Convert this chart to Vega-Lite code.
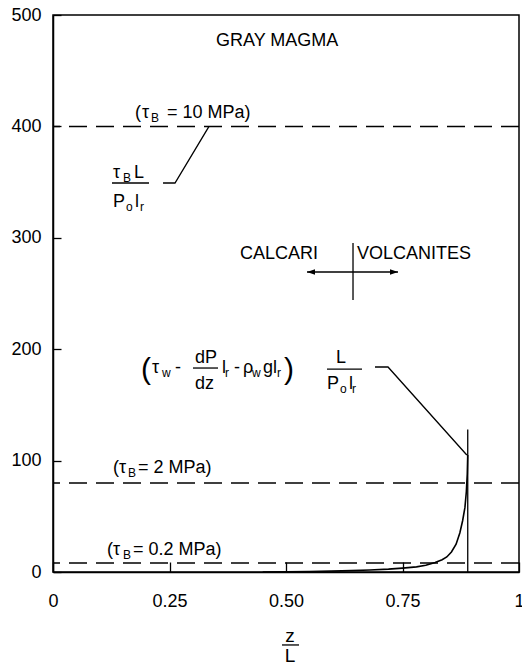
{
  "$schema": "https://vega.github.io/schema/vega-lite/v6.json",
  "width": 466,
  "height": 557,
  "autosize": {"type": "none"},
  "padding": {"left": 53, "top": 15, "right": 3, "bottom": 96},
  "background": "white",
  "config": {
    "view": {"stroke": "black", "strokeWidth": 1.5},
    "font": "Liberation Sans",
    "axis": {
      "domainColor": "black", "domainWidth": 1.5, "tickColor": "black", "tickWidth": 1.3,
      "labelColor": "black", "labelFont": "Liberation Sans", "labelFontSize": 18,
      "grid": false, "title": null
    }
  },
  "datasets": {
    "curve": [
      {"z": 0.45, "v": 0}, {"z": 0.55, "v": 0.4}, {"z": 0.62, "v": 1.0}, {"z": 0.68, "v": 1.8},
      {"z": 0.72, "v": 2.6}, {"z": 0.75, "v": 3.5}, {"z": 0.78, "v": 4.6}, {"z": 0.80, "v": 6},
      {"z": 0.82, "v": 8.5}, {"z": 0.835, "v": 11}, {"z": 0.845, "v": 13.5}, {"z": 0.855, "v": 18},
      {"z": 0.865, "v": 25}, {"z": 0.873, "v": 35}, {"z": 0.879, "v": 46}, {"z": 0.884, "v": 58},
      {"z": 0.887, "v": 72}, {"z": 0.889, "v": 88}, {"z": 0.890, "v": 105}
    ],
    "dash": [{"v": 400}, {"v": 80}, {"v": 8}],
    "lines": [
      {"id": 1, "o": 1, "z": 0.89, "v": 0}, {"id": 1, "o": 2, "z": 0.89, "v": 128},
      {"id": 2, "o": 1, "z": 0.2361, "v": 349.2}, {"id": 2, "o": 2, "z": 0.2618, "v": 349.2}, {"id": 2, "o": 3, "z": 0.3348, "v": 400},
      {"id": 3, "o": 1, "z": 0.6910, "v": 184.0}, {"id": 3, "o": 2, "z": 0.7189, "v": 184.0}, {"id": 3, "o": 3, "z": 0.888, "v": 105},
      {"id": 4, "o": 1, "z": 0.6438, "v": 295.3}, {"id": 4, "o": 2, "z": 0.6438, "v": 244.2},
      {"id": 5, "o": 1, "z": 0.5451, "v": 269.3}, {"id": 5, "o": 2, "z": 0.7403, "v": 269.3},
      {"id": 6, "o": 1, "z": 0.1266, "v": 349.2}, {"id": 6, "o": 2, "z": 0.2060, "v": 349.2},
      {"id": 7, "o": 1, "z": 0.3004, "v": 183.1}, {"id": 7, "o": 2, "z": 0.3541, "v": 183.1},
      {"id": 8, "o": 1, "z": 0.5880, "v": 182.2}, {"id": 8, "o": 2, "z": 0.6631, "v": 182.2},
      {"id": 9, "o": 1, "z": 0.4914, "v": -65.5}, {"id": 9, "o": 2, "z": 0.5279, "v": -65.5}
    ],
    "heads": [{"z": 0.5451, "v": 269.3, "dir": "left"}, {"z": 0.7403, "v": 269.3, "dir": "right"}],
    "main": [
      {"z": 0.3498, "v": 472.2, "t": "GRAY MAGMA"},
      {"z": 0.1760, "v": 407.5, "t": "("}, {"z": 0.1910, "v": 407.5, "t": "τ"}, {"z": 0.2446, "v": 407.5, "t": "= 10 MPa)"},
      {"z": 0.1288, "v": 353.7, "t": "τ"}, {"z": 0.1738, "v": 353.7, "t": "L"},
      {"z": 0.1288, "v": 327.6, "t": "P"}, {"z": 0.1760, "v": 327.6, "t": "l"},
      {"z": 0.4013, "v": 281.0, "t": "CALCARI"}, {"z": 0.6524, "v": 281.0, "t": "VOLCANITES"},
      {"z": 0.2124, "v": 178.6, "t": "τ"}, {"z": 0.2618, "v": 178.6, "t": "-"},
      {"z": 0.3047, "v": 187.6, "t": "dP"}, {"z": 0.3047, "v": 164.5, "t": "dz"},
      {"z": 0.3627, "v": 178.6, "t": "l"}, {"z": 0.3884, "v": 178.6, "t": "-"},
      {"z": 0.4077, "v": 178.6, "t": "ρ"}, {"z": 0.4506, "v": 178.6, "t": "g"}, {"z": 0.4721, "v": 178.6, "t": "l"},
      {"z": 0.6073, "v": 187.6, "t": "L"}, {"z": 0.5880, "v": 164.5, "t": "P"}, {"z": 0.6352, "v": 164.5, "t": "l"},
      {"z": 0.1288, "v": 88.9, "t": "("}, {"z": 0.1416, "v": 88.9, "t": "τ"}, {"z": 0.1824, "v": 88.9, "t": "= 2 MPa)"},
      {"z": 0.1159, "v": 15.3, "t": "("}, {"z": 0.1288, "v": 15.3, "t": "τ"}, {"z": 0.1717, "v": 15.3, "t": "= 0.2 MPa)"}
    ],
    "sub": [
      {"z": 0.2103, "v": 407.5, "t": "B"},
      {"z": 0.1502, "v": 353.7, "t": "B"},
      {"z": 0.1567, "v": 327.6, "t": "o"}, {"z": 0.1867, "v": 327.6, "t": "r"},
      {"z": 0.2339, "v": 178.6, "t": "w"}, {"z": 0.3691, "v": 178.6, "t": "r"},
      {"z": 0.4270, "v": 178.6, "t": "w"}, {"z": 0.4807, "v": 178.6, "t": "r"},
      {"z": 0.6159, "v": 164.5, "t": "o"}, {"z": 0.6416, "v": 164.5, "t": "r"},
      {"z": 0.1609, "v": 88.9, "t": "B"},
      {"z": 0.1502, "v": 15.3, "t": "B"}
    ],
    "paren": [{"z": 0.1888, "v": 173.2, "t": "("}, {"z": 0.4957, "v": 173.2, "t": ")"}],
    "title": [{"z": 0.5086, "v": -62.8, "t": "z"}, {"z": 0.5086, "v": -80.8, "t": "L"}]
  },
  "encoding": {
    "x": {"field": "z", "type": "quantitative", "scale": {"domain": [0, 1], "nice": false},
      "axis": {"values": [0, 0.25, 0.5, 0.75, 1], "labelExpr": "datum.value == 0 ? '0' : datum.value == 1 ? '1' : format(datum.value, '.2f')",
        "tickSize": -10, "labelPadding": 30, "labelFlush": false, "labelOverlap": false}},
    "y": {"field": "v", "type": "quantitative", "scale": {"domain": [0, 500], "nice": false},
      "axis": {"values": [0, 100, 200, 300, 400, 500], "tickSize": -8, "labelPadding": 20, "labelOverlap": false}}
  },
  "layer": [
    {"data": {"name": "dash"}, "mark": {"type": "rule", "color": "black", "strokeWidth": 1.5, "strokeDash": [18, 9]},
      "encoding": {"x": null, "y": {"field": "v", "type": "quantitative"}}},
    {"data": {"name": "curve"}, "mark": {"type": "line", "color": "black", "strokeWidth": 1.6}, "encoding": {}},
    {"data": {"name": "lines"}, "mark": {"type": "line", "color": "black", "strokeWidth": 1.3},
      "encoding": {"detail": {"field": "id", "type": "nominal"}, "order": {"field": "o", "type": "quantitative"}}},
    {"data": {"name": "heads"}, "mark": {"type": "point", "filled": true, "color": "black", "opacity": 1, "size": 256},
      "encoding": {"shape": {"field": "dir", "type": "nominal", "scale": {"domain": ["left", "right"], "range": ["M0,0L1,-0.35L1,0.35Z", "M0,0L-1,-0.35L-1,0.35Z"]}, "legend": null}}},
    {"data": {"name": "main"}, "mark": {"type": "text", "align": "left", "baseline": "alphabetic", "fontSize": 18, "color": "black"},
      "encoding": {"text": {"field": "t"}}},
    {"data": {"name": "sub"}, "mark": {"type": "text", "align": "left", "baseline": "alphabetic", "fontSize": 12, "dy": 4, "color": "black"},
      "encoding": {"text": {"field": "t"}}},
    {"data": {"name": "paren"}, "mark": {"type": "text", "align": "left", "baseline": "alphabetic", "fontSize": 30, "fontWeight": "normal", "color": "black"},
      "encoding": {"text": {"field": "t"}}},
    {"data": {"name": "title"}, "mark": {"type": "text", "align": "center", "baseline": "alphabetic", "fontSize": 19, "color": "black"},
      "encoding": {"text": {"field": "t"}}}
  ]
}
